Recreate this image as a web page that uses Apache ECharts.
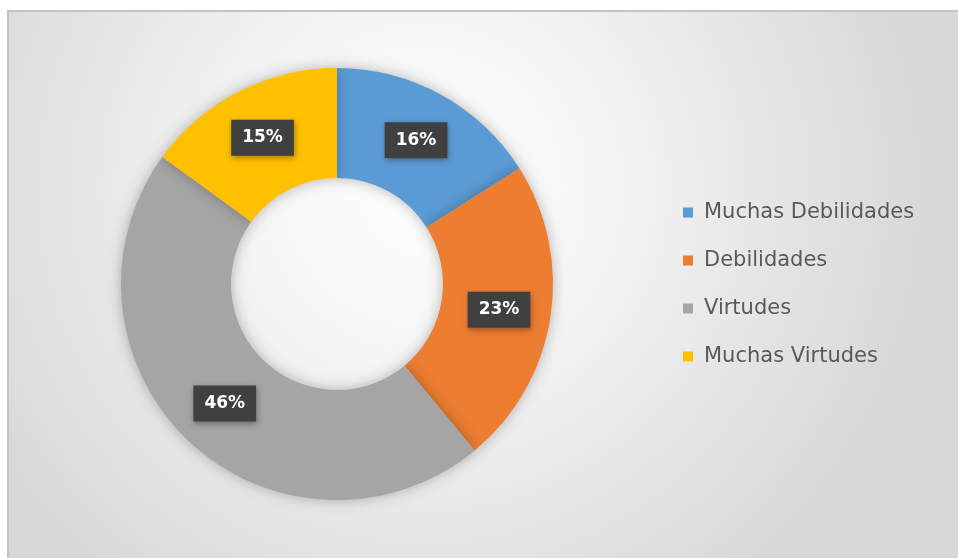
<!DOCTYPE html>
<html>
<head>
<meta charset="utf-8">
<style>
  html, body { margin: 0; padding: 0; background: #ffffff; }
  #chart { width: 958px; height: 558px; }
</style>
<script src="https://cdn.jsdelivr.net/npm/echarts@6/dist/echarts.min.js"></script>
</head>
<body>
<div id="chart"></div>
<script>
var categories = ['Muchas Debilidades', 'Debilidades', 'Virtudes', 'Muchas Virtudes'];
var values = [16, 23, 46, 15];
var colors = ['#5B9BD5', '#ED7D31', '#A5A5A5', '#FFC000'];

var myChart = echarts.init(document.getElementById('chart'));

var pieData = [];
for (var i = 0; i < categories.length; i++) {
  pieData.push({ name: categories[i], value: values[i] });
}

var option = {
  color: colors,
  animation: false,
  graphic: [
    {
      type: 'rect',
      z: -10,
      shape: { x: 8, y: 11, width: 990, height: 590 },
      style: {
        fill: new echarts.graphic.RadialGradient(0.42, 0.3, 0.85, [
          { offset: 0, color: '#ffffff' },
          { offset: 0.35, color: '#f5f5f5' },
          { offset: 1, color: '#d8d8d8' }
        ]),
        stroke: '#c4c4c4',
        lineWidth: 2
      }
    }
  ],
  legend: {
    orient: 'vertical',
    left: 678,
    top: 197,
    icon: 'rect',
    itemWidth: 10,
    itemHeight: 10,
    itemGap: 27,
    textStyle: {
      color: '#595959',
      fontSize: 21,
      fontFamily: 'DejaVu Sans',
      padding: [0, 0, 0, 6]
    },
    data: categories
  },
  series: [
    {
      type: 'pie',
      center: [337, 284],
      radius: [106, 216],
      startAngle: 90,
      clockwise: true,
      silent: true,
      itemStyle: {
        borderWidth: 0,
        shadowBlur: 14,
        shadowColor: 'rgba(0, 0, 0, 0.28)'
      },
      label: {
        show: true,
        position: 'inside',
        formatter: '{c}%',
        color: '#ffffff',
        fontSize: 17,
        fontWeight: 'bold',
        fontFamily: 'DejaVu Sans',
        backgroundColor: '#404040',
        padding: [10, 11, 9, 11],
        shadowBlur: 6,
        shadowColor: 'rgba(0, 0, 0, 0.35)',
        shadowOffsetX: 1,
        shadowOffsetY: 2
      },
      labelLine: { show: false },
      data: pieData
    }
  ]
};

myChart.setOption(option);
</script>
</body>
</html>
